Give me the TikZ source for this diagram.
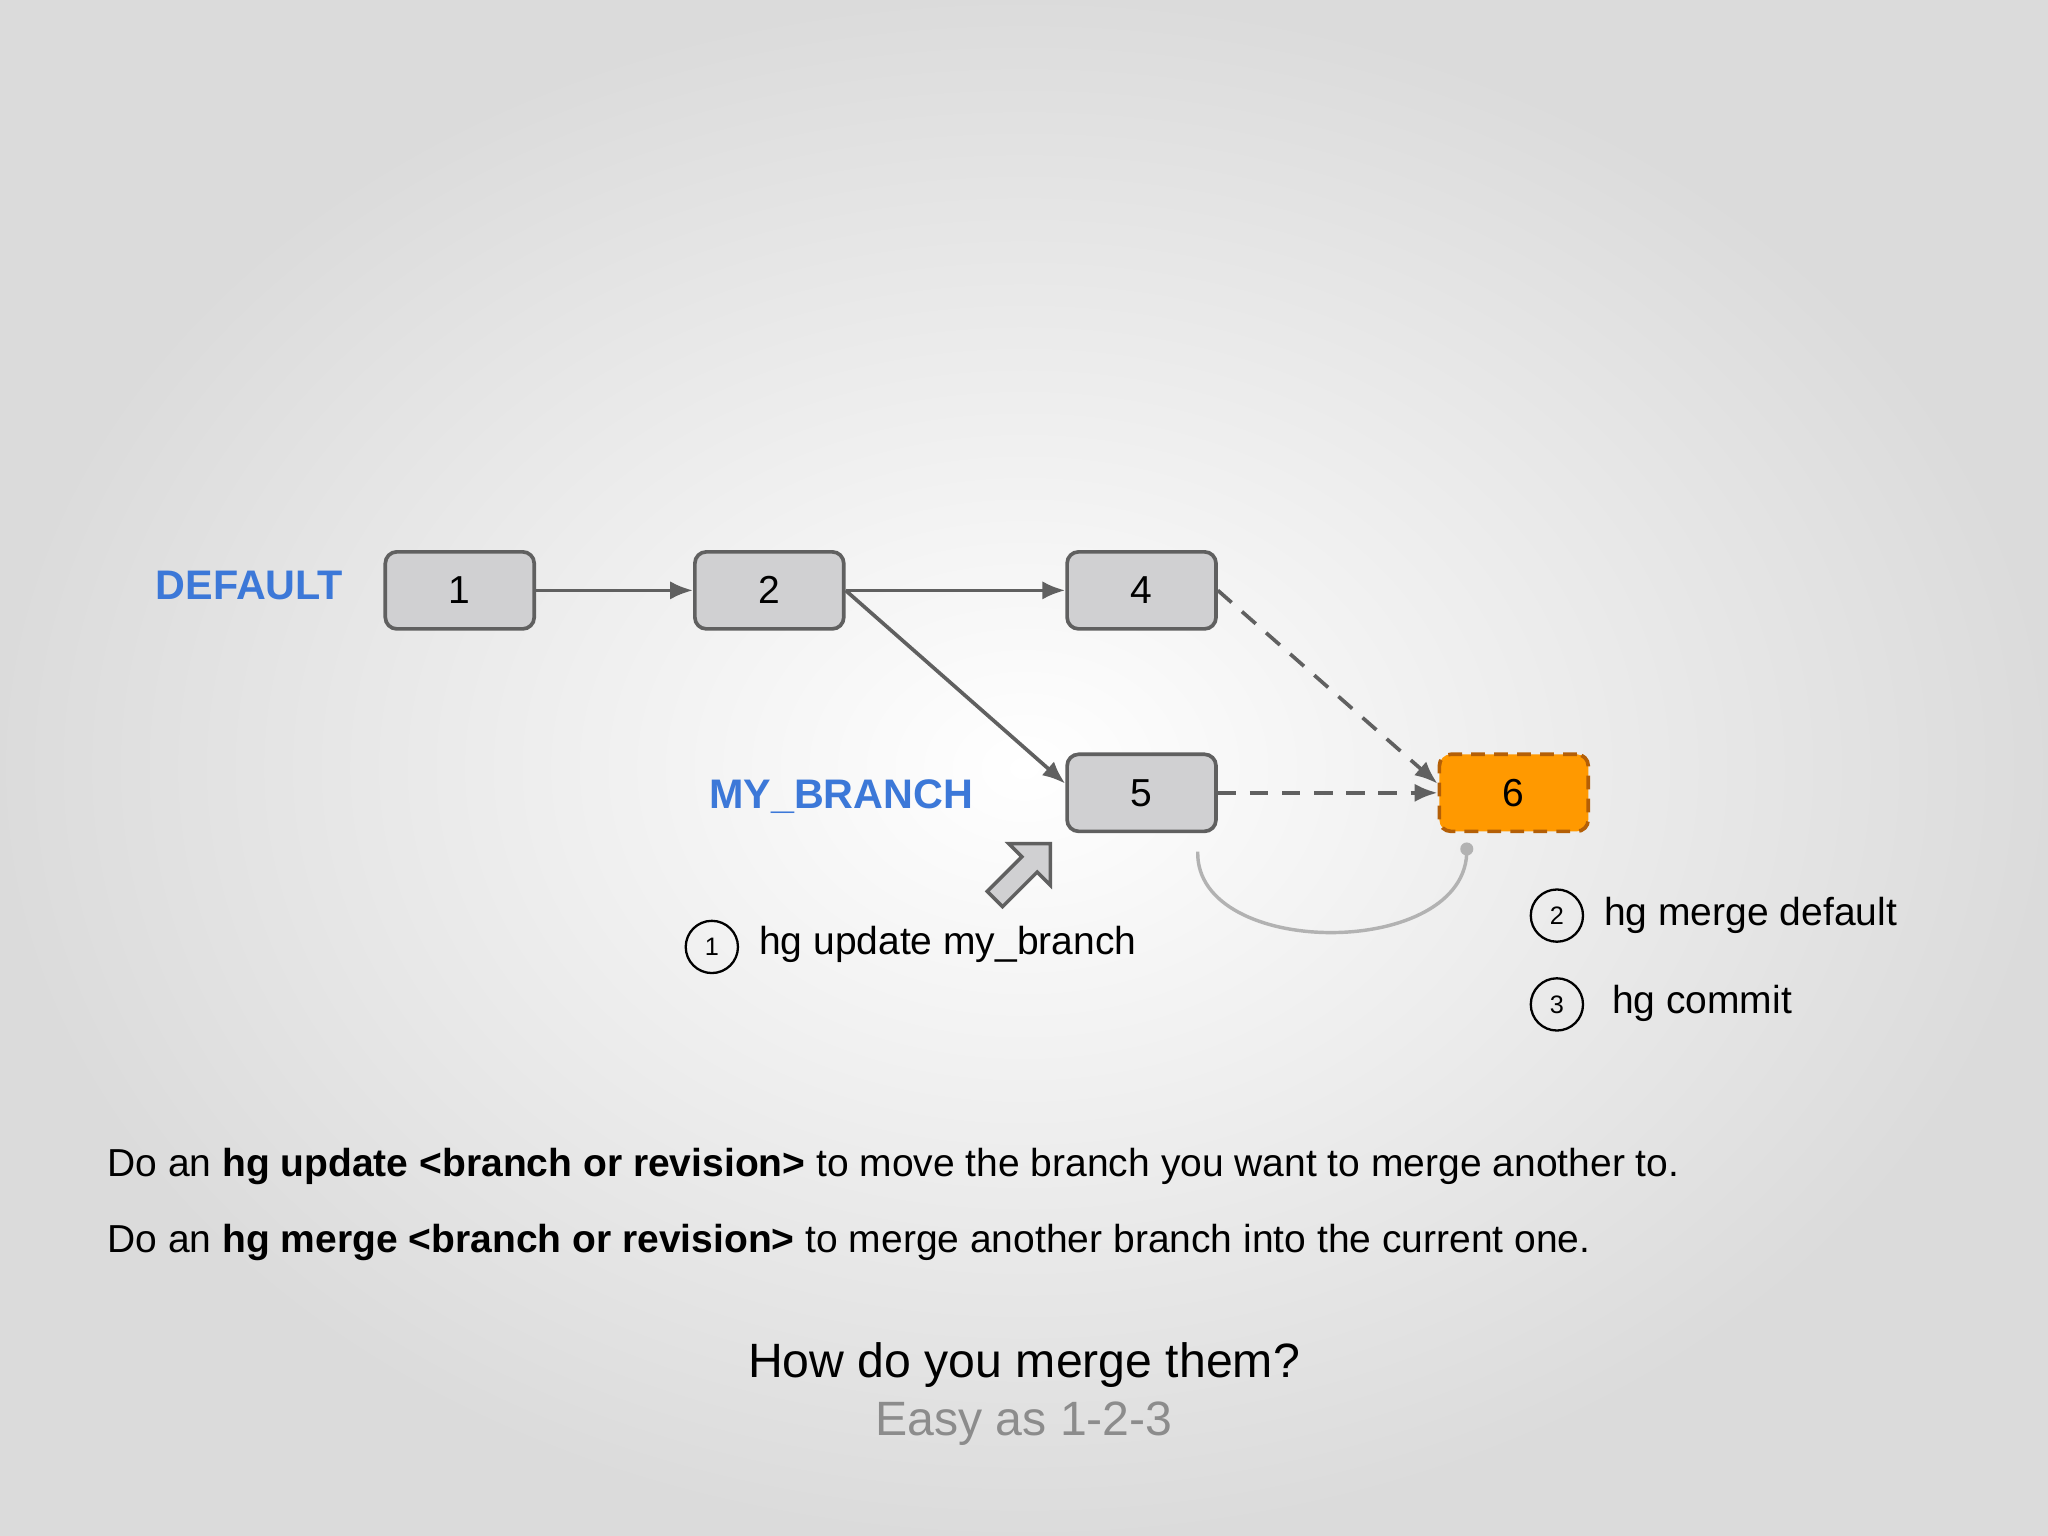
\documentclass[tikz,border=0pt]{standalone}
\usepackage{fontspec}
\setmainfont{Liberation Sans}
\usetikzlibrary{arrows.meta,shapes.arrows}
\definecolor{boxgray}{HTML}{D0D0D2}
\definecolor{edgegray}{HTML}{606060}
\definecolor{lblue}{HTML}{3C78D8}
\definecolor{orng}{HTML}{FF9900}
\definecolor{orngedge}{HTML}{B45F06}
\tikzset{
 x=0.02cm,y=-0.02cm,
 commit/.style={draw=edgegray,line width=1.6pt,fill=boxgray,rounded corners=5pt,minimum width=2.28cm,minimum height=1.18cm,font=\fontsize{17}{20}\selectfont},
 conn/.style={draw=edgegray,line width=1.6pt,-{Latex[length=10pt,width=8pt]}},
 dconn/.style={conn,dash pattern=on 8pt off 6pt},
 blbl/.style={text=lblue,font=\bfseries\fontsize{18}{21}\selectfont},
 hand/.style={font=\fontsize{17}{20}\selectfont,anchor=west},
 circ/.style={circle,draw,line width=1pt,inner sep=2pt,minimum size=0.8cm,font=\fontsize{11}{12}\selectfont},
 body/.style={font=\fontsize{17}{20}\selectfont,anchor=west}
}
\begin{document}
\begin{tikzpicture}
\shade[inner color=white,outer color=black!14,shading=radial] (0,0) rectangle (1568,1176);
\useasboundingbox (0,0) rectangle (1568,1176);
\node[blbl] (def) at (191,448) {DEFAULT};
\node[blbl] (mb) at (644,610) {MY\_BRANCH};
\node[commit] (c1) at (352,452) {1};
\node[commit] (c2) at (589,452) {2};
\node[commit] (c4) at (874,452) {4};
\node[commit] (c5) at (874,607) {5};
\node[commit,fill=orng,draw=orngedge,dash pattern=on 6pt off 4pt] (c6) at (1159,607) {6};
\draw[conn] (c1) -- (c2);
\draw[conn] (c2) -- (c4);
\draw[conn] (c2.east) -- ([yshift=4pt]c5.west);
\draw[dconn] (c4.east) -- ([yshift=4pt]c6.west);
\draw[dconn] (c5) -- (c6);
\coordinate (a0) at (917,652);
\coordinate (a1) at (1123,650);
\draw[black!30,line width=1.5pt] (a0) .. controls (915,735) and (1125,735) .. (a1);
\fill[black!30] (a1) circle (5);
\node[single arrow,draw=edgegray,fill=boxgray,line width=1.5pt,minimum height=1.2cm,minimum width=0.9cm,single arrow head extend=3pt,rotate=45,inner sep=1pt] (ua) at (780,670) {};
\node[circ] (n1) at (545,725) {1};
\node[hand] (t1) at (575,723) {hg update my\_branch};
\node[circ] (n2) at (1192,701) {2};
\node[hand] (t2) at (1222,701) {hg merge default};
\node[circ] (n3) at (1192,769) {3};
\node[hand] (t3) at (1228,768) {hg commit};
\node[body] (l1) at (76,893) {Do an \textbf{hg update <branch or revision>} to move the branch you want to merge another to.};
\node[body] (l2) at (76,951) {Do an \textbf{hg merge <branch or revision>} to merge another branch into the current one.};
\node[font=\fontsize{21}{25}\selectfont] (ti) at (784,1045) {How do you merge them?};
\node[font=\fontsize{21}{25}\selectfont,text=black!45] (st) at (784,1090) {Easy as 1-2-3};
\end{tikzpicture}
\end{document}
